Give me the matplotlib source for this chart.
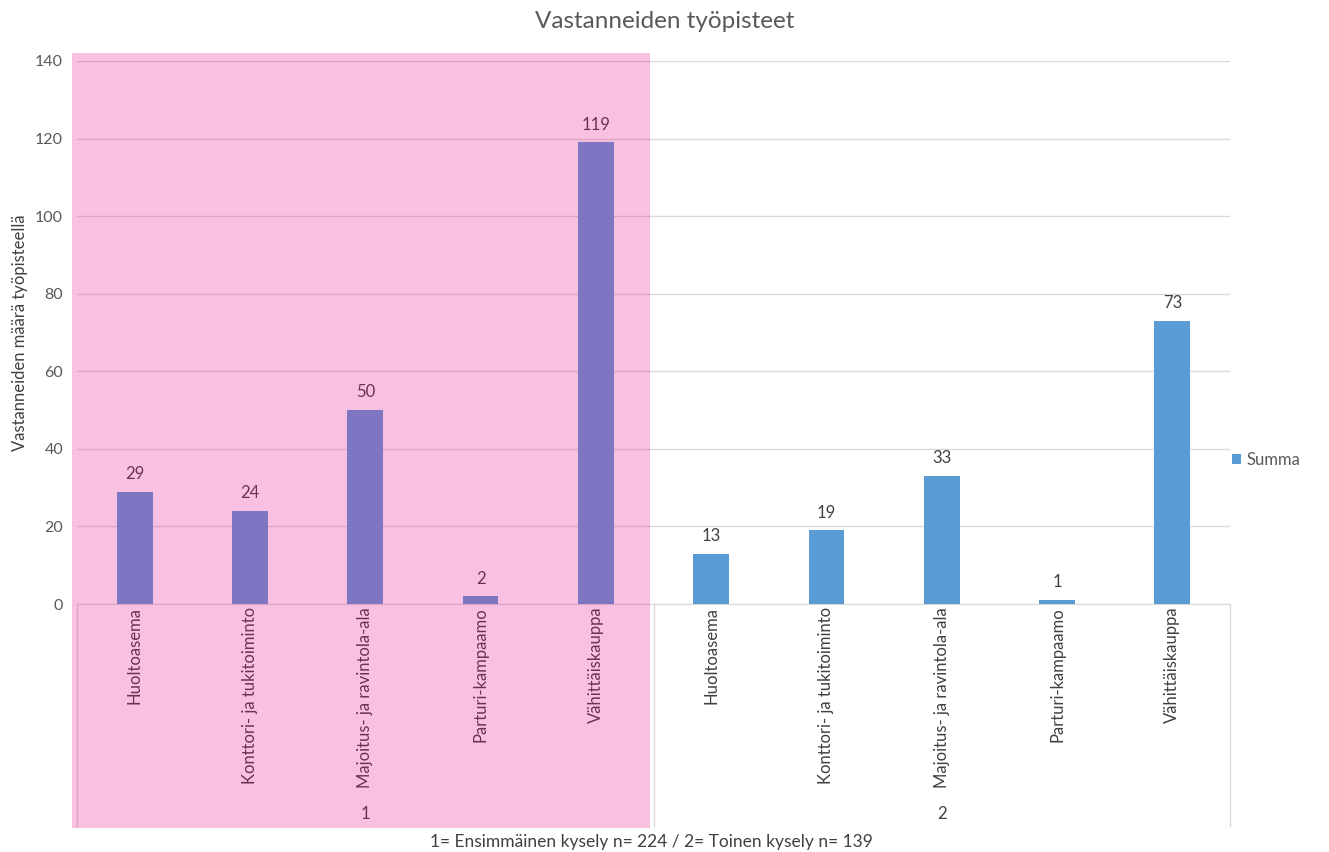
import numpy as np
import matplotlib
matplotlib.use('Agg')
import matplotlib.pyplot as plt
from matplotlib.patches import Rectangle
import matplotlib.transforms as mtransforms

plt.rcParams['font.family'] = ['Lato', 'DejaVu Sans']

categories = ['Huoltoasema', 'Konttori- ja tukitoiminto', 'Majoitus- ja ravintola-ala',
              'Parturi-kampaamo', 'Vähittäiskauppa']
groups = ['1', '2']
values_1 = [29, 24, 50, 2, 119]
values_2 = [13, 19, 33, 1, 73]

values = values_1 + values_2
labels = categories + categories
x = np.arange(len(values))

W, H = 1329, 852
fig = plt.figure(figsize=(W / 100, H / 100), dpi=100)
ax = fig.add_axes([77 / W, 1 - 604 / H, (1230 - 77) / W, (604 - 61) / H])
ax.set_facecolor('none')

blue = '#5B9BD5'
bars = ax.bar(x, values, width=0.31, color=blue, label='Summa', zorder=3)
for xi, v in zip(x, values):
    ax.text(xi, v + 2.5, str(v), ha='center', va='bottom', fontsize=12, color='#404040')

ax.set_xlim(-0.5, len(values) - 0.5)
ax.set_ylim(0, 140)
ax.set_yticks(range(0, 141, 20))
ax.grid(axis='y', color='#D9D9D9', linewidth=1, zorder=0)
for s in ['top', 'right', 'left']:
    ax.spines[s].set_visible(False)
ax.spines['bottom'].set_color('#D9D9D9')
ax.tick_params(axis='y', length=0, pad=10, labelsize=11.5, labelcolor='#595959')
ax.set_xticks(x)
ax.set_xticklabels(labels, rotation=90, va='top', fontsize=12, color='#404040')
ax.tick_params(axis='x', length=0, pad=2)
ax.set_ylabel('Vastanneiden määrä työpisteellä', fontsize=12, color='#404040', labelpad=5)

# category table lines
trans = mtransforms.blended_transform_factory(ax.transData, ax.transAxes)
ybot = -(826 - 604) / (604 - 61)
for xb in [-0.5, 4.5, len(values) - 0.5]:
    ax.plot([xb, xb], [0, ybot], color='#D9D9D9', linewidth=1, transform=trans, clip_on=False)

ygrp = -(814 - 604) / (604 - 61)
for i, g in enumerate(groups):
    ax.text(2 + 5 * i, ygrp, g, ha='center', va='center', fontsize=12,
            color='#404040', transform=trans)

fig.text(665 / W, 1 - 22 / H, 'Vastanneiden työpisteet', ha='center', va='center',
         fontsize=17.5, color='#595959')
fig.text(651 / W, 1 - 842 / H, '1= Ensimmäinen kysely n= 224 / 2= Toinen kysely n= 139',
         ha='center', va='center', fontsize=12.5, color='#404040')

ax.legend(loc='center left', bbox_to_anchor=(0.989, (604 - 460) / (604 - 61)), frameon=False,
          fontsize=12, handlelength=0.5, handleheight=0.5, handletextpad=0.35,
          labelcolor='#595959')

# pink highlight over first survey
fig.patches.append(Rectangle((72 / W, 1 - 828 / H), (650 - 72) / W, (828 - 53) / H,
                             transform=fig.transFigure, facecolor='#E70B8F', alpha=0.25,
                             edgecolor='none', zorder=10))

fig.savefig('out.png', dpi=100)
